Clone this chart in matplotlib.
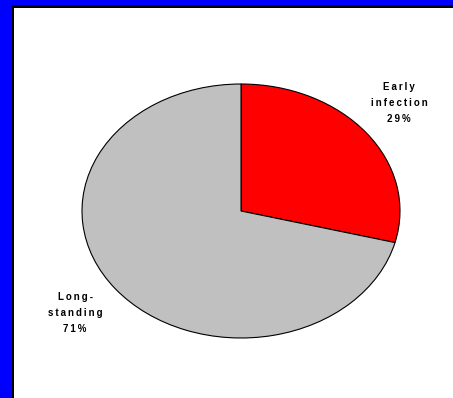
import matplotlib.pyplot as plt
from matplotlib.patches import Rectangle

labels = ["Early\ninfection", "Long-\nstanding"]
shares = [29, 71]
colors = ["#FF0000", "#C0C0C0"]

W, H = 453, 398


def spaced(s):
    # wide letter spacing, line by line
    return "\n".join("\u2009".join(line) for line in s.split("\n"))


fig = plt.figure(figsize=(W / 100, H / 100), dpi=100, facecolor="#0000FF")

# dark edge and white panel inside the blue frame
fig.patches.append(Rectangle((12 / W, 0), 1, (H - 5) / H, transform=fig.transFigure,
                             facecolor="#000000", edgecolor="none", zorder=0))
fig.patches.append(Rectangle((14.5 / W, 0), 1, (H - 7.5) / H, transform=fig.transFigure,
                             facecolor="white", edgecolor="none", zorder=0))

# ellipse spans x 82..400, y 84..338 (pixels from top)
ax = fig.add_axes([82 / W, (H - 338) / H, 318 / W, 254 / H], zorder=2)
ax.pie(shares, colors=colors, startangle=90, counterclock=False,
       wedgeprops=dict(edgecolor="#000000", linewidth=0.8))
ax.set_aspect("auto")
ax.set_xlim(-1, 1)
ax.set_ylim(-1, 1)
ax.axis("off")


def px(x, y):
    return x / W, 1 - y / H


texts = [
    (labels[0] + f"\n{shares[0]}%", 399, 103),
    (labels[1] + f"\n{shares[1]}%", 75, 313),
]
for txt, x, y in texts:
    fig.text(*px(x, y), spaced(txt), ha="center", va="center", fontsize=7,
             fontweight="bold", family=["Liberation Sans", "DejaVu Sans"],
             color="#000000", linespacing=1.75, zorder=3)

fig.savefig("out.png", dpi=100, facecolor=fig.get_facecolor())
